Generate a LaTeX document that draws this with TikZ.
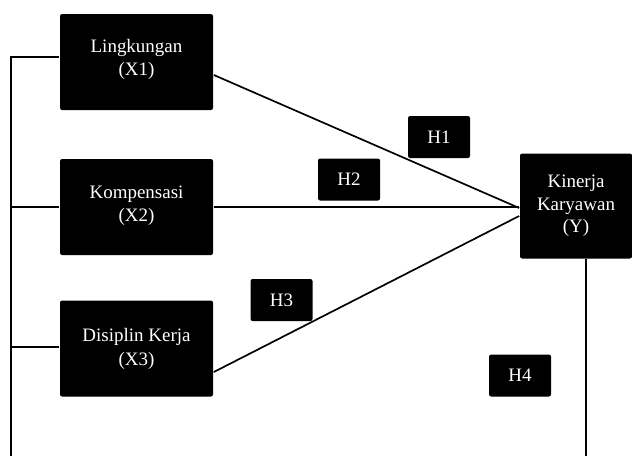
\documentclass[tikz,border=0pt]{standalone}
\usepackage{fontspec}
\setmainfont{Liberation Serif}
\usetikzlibrary{arrows.meta}

\begin{document}
\begin{tikzpicture}[line width=1.2pt,
	varbox/.style={rectangle,rounded corners=1.5pt,fill=black,text=white,align=center,minimum width=3.825cm,minimum height=2.4cm,font=\fontsize{13.5}{16.5}\selectfont},
	hypbox/.style={rectangle,rounded corners=1.5pt,fill=black,text=white,minimum width=1.55cm,minimum height=1.05cm,font=\fontsize{13.5}{15}\selectfont}]
	\useasboundingbox (0,0) rectangle (15.8,-11.4);
	\node (x1) at (3.4125,-1.55) [varbox] {Lingkungan\\(X1)\\[-0.35cm]};
	\node (x2) at (3.4125,-5.175) [varbox] {Kompensasi\\(X2)\\[-0.4cm]};
	\node (x3) at (3.4125,-8.7125) [varbox] {Disiplin Kerja\\(X3)\\[-0.5cm]};
	\node (y) at (14.4,-5.15) [varbox,minimum width=2.8cm,minimum height=2.625cm,font=\fontsize{13.5}{16}\selectfont] {Kinerja\\Karyawan\\(Y)\\[-0.45cm]};
	\node (h1) at (10.975,-3.425) [hypbox] {H1};
	\node (h2) at (8.725,-4.4875) [hypbox] {H2};
	\node (h3) at (7.0375,-7.5) [hypbox] {H3};
	\node (h4) at (13.0,-9.3875) [hypbox] {H4};
	\coordinate (bl) at (0.275,-11.4);
	\coordinate (br) at (14.65,-11.4);
	% paths to Y
	\draw ([yshift=-0.325cm]x1.east) -- ([yshift=-0.05cm]y.west);
	\draw (x2.east) -- (x2.east -| y.west);
	\draw ([yshift=-0.5875cm]x3.east) -- ([yshift=-0.25cm]y.west);
	% left and right frame
	\draw ([yshift=0.125cm]x1.west) -| (bl);
	\draw (x2.west) -- (x2.west -| bl);
	\draw ([yshift=0.04cm]x3.west) -- ([yshift=0.04cm]x3.west -| bl);
	\draw (y.south -| br) -- (br);
\end{tikzpicture}
\end{document}
